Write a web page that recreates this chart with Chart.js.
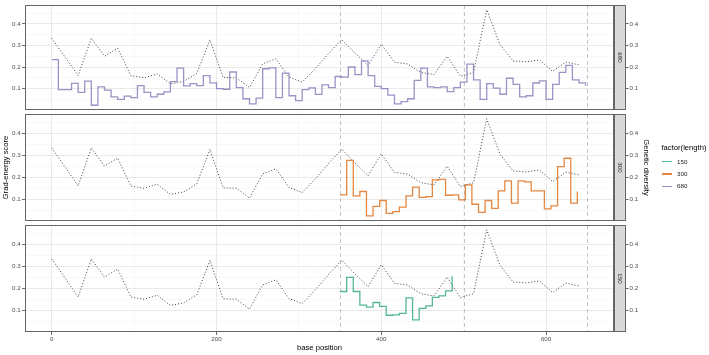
<!DOCTYPE html>
<html>
<head>
<meta charset="utf-8">
<script src="https://cdn.jsdelivr.net/npm/chart.js@4"></script>
<style>
  body { margin: 0; background: #fff; }
  #wrap { position: relative; width: 709px; height: 355px; overflow: hidden; font-family: 'Liberation Sans', Arial, sans-serif; }
  #wrap canvas { position: absolute; left: 0; top: 0; }
  .lg { position: absolute; white-space: nowrap; color: #1A1A1A; }
  .key { position: absolute; width: 10px; height: 1.3px; }
</style>
</head>
<body>
<div id="wrap">
  <canvas id="p680" width="709" height="355"></canvas>
  <canvas id="p300" width="709" height="355"></canvas>
  <canvas id="p150" width="709" height="355"></canvas>
  <div id="legend"></div>
</div>
<script>
// genetic diversity (dotted line, same in every facet)
const divPos = [0, 16, 32, 48, 64, 80, 96, 112, 128, 144, 160, 176, 192, 208, 224, 240, 256, 272, 288, 304,
  320, 336, 352, 368, 384, 400, 416, 432, 448, 464, 480, 496, 512, 528, 544, 560, 576, 592, 608, 624, 640];
const divVals = [0.333, 0.247, 0.160, 0.333, 0.250, 0.287, 0.160, 0.150, 0.168, 0.122, 0.133, 0.170, 0.326, 0.152,
  0.150, 0.105, 0.215, 0.238, 0.153, 0.130, 0.193, 0.262, 0.327, 0.265, 0.207, 0.306, 0.222, 0.214, 0.175, 0.165,
  0.250, 0.157, 0.175, 0.465, 0.305, 0.228, 0.224, 0.233, 0.180, 0.223, 0.210];

// grad-energy score, length 680
const pos680 = [0, 8, 16, 24, 32, 40, 48, 56, 64, 72, 80, 88, 96, 104, 112, 120, 128, 136, 144, 152, 160, 168,
  176, 184, 192, 200, 208, 216, 224, 232, 240, 248, 256, 264, 272, 280, 288, 296, 304, 312, 320, 328, 336, 344,
  352, 360, 368, 376, 384, 392, 400, 408, 416, 424, 432, 440, 448, 456, 464, 472, 480, 488, 496, 504, 512, 520,
  528, 536, 544, 552, 560, 568, 576, 584, 592, 600, 608, 616, 624, 632, 640, 648];
const vals680 = [0.234, 0.095, 0.095, 0.124, 0.083, 0.135, 0.023, 0.108, 0.093, 0.062, 0.050, 0.065, 0.058, 0.114,
  0.083, 0.062, 0.074, 0.085, 0.132, 0.195, 0.113, 0.123, 0.114, 0.160, 0.127, 0.100, 0.097, 0.177, 0.105, 0.053,
  0.029, 0.056, 0.192, 0.196, 0.058, 0.172, 0.067, 0.044, 0.095, 0.103, 0.073, 0.117, 0.105, 0.156, 0.153, 0.200,
  0.165, 0.228, 0.160, 0.110, 0.100, 0.070, 0.029, 0.040, 0.053, 0.138, 0.195, 0.108, 0.105, 0.108, 0.086, 0.105,
  0.130, 0.213, 0.140, 0.050, 0.123, 0.102, 0.074, 0.148, 0.120, 0.062, 0.067, 0.126, 0.136, 0.050, 0.120, 0.175,
  0.208, 0.140, 0.127, 0.113];

// length 300
const pos300 = [350, 358, 366, 374, 382, 390, 398, 406, 414, 422, 430, 438, 446, 454, 462, 470, 478, 486, 494,
  502, 510, 518, 526, 534, 542, 550, 558, 566, 574, 582, 590, 598, 606, 614, 622, 630, 638];
const vals300 = [0.120, 0.276, 0.115, 0.135, 0.024, 0.067, 0.094, 0.036, 0.044, 0.064, 0.115, 0.155, 0.108, 0.112,
  0.188, 0.190, 0.118, 0.120, 0.097, 0.165, 0.077, 0.040, 0.094, 0.058, 0.138, 0.183, 0.082, 0.183, 0.179, 0.138,
  0.138, 0.056, 0.070, 0.248, 0.286, 0.082, 0.135];

// length 150
const pos150 = [350, 358, 366, 374, 382, 390, 398, 406, 414, 422, 430, 438, 446, 454, 462, 470, 478, 486];
const vals150 = [0.185, 0.249, 0.185, 0.123, 0.114, 0.135, 0.117, 0.077, 0.079, 0.086, 0.156, 0.056, 0.108, 0.120,
  0.158, 0.165, 0.188, 0.254];

const cutPositions = [350, 500, 650];
const xMajorTicks = [0, 200, 400, 600];
const xMinorTicks = [100, 300, 500];
const yMajorTicks = [0.1, 0.2, 0.3, 0.4];
const yMinorTicks = [0.05, 0.15, 0.25, 0.35, 0.45];
const lengths = ['150', '300', '680'];

const colors = { '150': 'rgba(27,158,119,0.75)', '300': 'rgba(217,95,2,0.75)', '680': 'rgba(117,112,179,0.75)' };
const FONT = "'Liberation Sans', Arial, sans-serif";
Chart.defaults.font.family = FONT;

const isIn = (v, list) => list.some(m => Math.abs(m - v) < 1e-9);

const panels = [
  { id: 'p680', label: '680', pos: pos680, vals: vals680, top: 3, bottom: 110 },
  { id: 'p300', label: '300', pos: pos300, vals: vals300, top: 114, bottom: 221, middle: true },
  { id: 'p150', label: '150', pos: pos150, vals: vals150, top: 225, bottom: 332, last: true }
];

const panelDecor = {
  id: 'panelDecor',
  beforeDatasetsDraw(chart) {
    const { ctx, chartArea: a, scales: { x } } = chart;
    ctx.save();
    ctx.strokeStyle = '#BDBDBD';
    ctx.lineWidth = 0.9;
    ctx.setLineDash([4, 3]);
    cutPositions.forEach(v => {
      const px = Math.round(x.getPixelForValue(v)) + 0.5;
      ctx.beginPath();
      ctx.moveTo(px, a.top);
      ctx.lineTo(px, a.bottom);
      ctx.stroke();
    });
    ctx.restore();
  },
  afterDraw(chart, args, opts) {
    const { ctx, chartArea: a } = chart;
    ctx.save();
    // facet strip on the right
    ctx.fillStyle = '#D9D9D9';
    ctx.fillRect(a.right, a.top, 12, a.bottom - a.top);
    ctx.strokeStyle = '#666';
    ctx.lineWidth = 1;
    ctx.strokeRect(a.right + 0.5, a.top + 0.5, 11, a.bottom - a.top - 1);
    ctx.strokeRect(a.left + 0.5, a.top + 0.5, a.right - a.left - 1, a.bottom - a.top - 1);
    ctx.translate(a.right + 6, (a.top + a.bottom) / 2);
    ctx.rotate(Math.PI / 2);
    ctx.fillStyle = '#1A1A1A';
    ctx.font = '6.2px ' + FONT;
    ctx.textAlign = 'center';
    ctx.textBaseline = 'middle';
    ctx.fillText(opts.label, 0, 0);
    ctx.restore();
  }
};

function gridColor(ctx, major) {
  return isIn(ctx.tick.value, major) ? '#E8E8E8' : '#F0F0F0';
}
function gridWidth(ctx, major) {
  return isIn(ctx.tick.value, major) ? 0.9 : 0.5;
}
function tickColor(ctx, major) {
  return isIn(ctx.tick.value, major) ? '#444' : 'rgba(0,0,0,0)';
}

function yAxis(p, side) {
  const right = side === 'right';
  return {
    position: side,
    min: 0.001,
    max: 0.487,
    afterBuildTicks: s => { s.ticks = [...yMinorTicks, ...yMajorTicks].sort((a, b) => a - b).map(v => ({ value: v })); },
    afterFit: s => { s.width = right ? 95 : 25; },
    border: { display: false },
    grid: {
      drawOnChartArea: !right,
      color: c => gridColor(c, yMajorTicks),
      lineWidth: c => gridWidth(c, yMajorTicks),
      tickLength: right ? 14.5 : 3,
      tickColor: c => tickColor(c, yMajorTicks),
      tickWidth: 0.8
    },
    ticks: {
      autoSkip: false,
      padding: right ? 1 : 1.3,
      color: '#4D4D4D',
      font: { size: 6.2 },
      callback: v => isIn(v, yMajorTicks) ? v.toFixed(1) : ''
    },
    title: {
      display: !!p.middle,
      text: right ? 'Genetic diversity' : 'Grad-energy score',
      color: '#000',
      font: { size: 7.65 },
      padding: right ? { top: 58.7, bottom: 0 } : { top: 1.7, bottom: 0 }
    }
  };
}

panels.forEach(p => {
  new Chart(document.getElementById(p.id), {
    type: 'line',
    data: {
      datasets: [{
        data: p.pos.map((x, i) => ({ x: x, y: p.vals[i] })),
        borderColor: colors[p.label],
        borderWidth: 1.3,
        stepped: 'before',
        pointRadius: 0,
        fill: false
      }, {
        data: divPos.map((x, i) => ({ x: x, y: divVals[i] })),
        borderColor: 'rgba(30,30,30,0.85)',
        borderWidth: 1,
        borderDash: [1, 2],
        pointRadius: 0,
        fill: false
      }]
    },
    options: {
      responsive: false,
      animation: false,
      devicePixelRatio: 1,
      layout: { padding: { top: p.top, bottom: p.last ? 0 : 355 - p.bottom, left: 0, right: 0 } },
      plugins: { legend: { display: false }, tooltip: { enabled: false }, panelDecor: { label: p.label } },
      scales: {
        x: {
          type: 'linear',
          min: -32.5,
          max: 682.5,
          afterBuildTicks: s => { s.ticks = [...xMajorTicks, ...xMinorTicks].sort((a, b) => a - b).map(v => ({ value: v })); },
          afterFit: s => { s.height = p.last ? 23 : 0; },
          border: { display: false },
          grid: {
            color: c => gridColor(c, xMajorTicks),
            lineWidth: c => gridWidth(c, xMajorTicks),
            drawTicks: !!p.last,
            tickLength: 3,
            tickColor: c => tickColor(c, xMajorTicks),
            tickWidth: 0.8
          },
          ticks: {
            display: !!p.last,
            autoSkip: false,
            maxRotation: 0,
            padding: 0.5,
            color: '#4D4D4D',
            font: { size: 6.2 },
            callback: v => isIn(v, xMajorTicks) ? String(v) : ''
          },
          title: {
            display: !!p.last,
            text: 'base position',
            color: '#000',
            font: { size: 7.65 },
            padding: { top: 0, bottom: 2.9 }
          }
        },
        y: yAxis(p, 'left'),
        y2: yAxis(p, 'right')
      }
    },
    plugins: [panelDecor]
  });
});

// legend for factor(length)
const legend = document.getElementById('legend');
const lt = document.createElement('div');
lt.className = 'lg';
lt.style.cssText = 'left:661.5px;top:143px;font-size:7.65px;line-height:10px;color:#000';
lt.textContent = 'factor(length)';
legend.appendChild(lt);
lengths.forEach((len, i) => {
  const cy = 161.7 + i * 12.3;
  const k = document.createElement('div');
  k.className = 'key';
  k.style.cssText = `left:662px;top:${cy - 0.65}px;background:${colors[len]}`;
  legend.appendChild(k);
  const t = document.createElement('div');
  t.className = 'lg';
  t.style.cssText = `left:677px;top:${cy - 4}px;font-size:6.2px;line-height:8px;color:#1A1A1A`;
  t.textContent = len;
  legend.appendChild(t);
});
</script>
</body>
</html>
